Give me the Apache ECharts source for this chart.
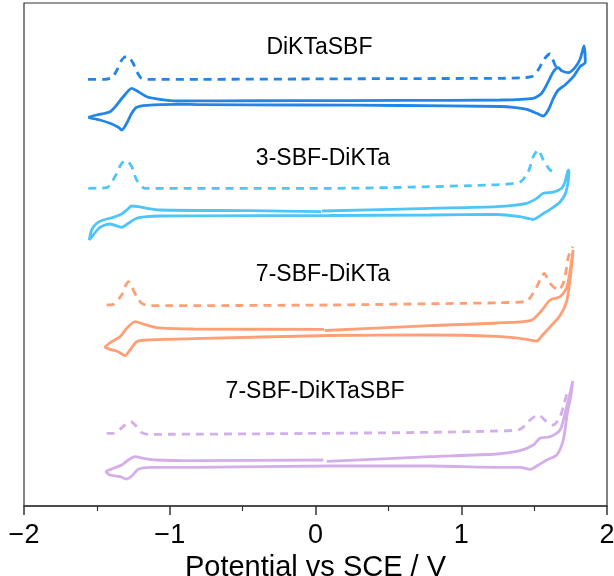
<!DOCTYPE html>
<html>
<head>
<meta charset="utf-8">
<script src="https://cdn.jsdelivr.net/npm/echarts@6/dist/echarts.min.js"></script>
<style>
html, body { margin: 0; padding: 0; background: #fff; }
#chart { width: 614px; height: 576px; }
</style>
</head>
<body>
<div id="chart"></div>
<script>
// Potential axis (V vs SCE)
const potentialMin = -2;
const potentialMax = 2;
const potentialStep = 1;

// Compounds, top to bottom, with their trace colours
const compounds = ['DiKTaSBF', '3-SBF-DiKTa', '7-SBF-DiKTa', '7-SBF-DiKTaSBF'];
const colors = ['#2385E8', '#4DC5F7', '#FF9F76', '#D3AEEB'];

// Where each compound name sits: [potential / V, stacked current (a.u.)]
const labelPoints = [[0.027, 458.7], [0.051, 347.7], [0.051, 231], [-0.003, 114.3]];

// Cyclic voltammograms: [potential / V, stacked current (a.u.)]
const cvDiKTaSBF = [
  [-1.559, 388.7], [-1.501, 391], [-1.410, 394.3], [-1.364, 401], [-1.319, 409.3], [-1.261, 417.7],
  [-1.216, 414.3], [-1.158, 409.3], [-1.067, 406.7], [-0.952, 405], [-0.655, 405.2], [-0.106, 405.3],
  [0.580, 405.6], [1.266, 406], [1.494, 407.7], [1.552, 412.7], [1.597, 424.3], [1.632, 434.3],
  [1.666, 438.3], [1.689, 435.3], [1.735, 433.3], [1.780, 438.3], [1.815, 446.7], [1.842, 460],
  [1.851, 443.7], [1.815, 439.3], [1.769, 429.3], [1.712, 421], [1.666, 416], [1.632, 407.7],
  [1.597, 396], [1.563, 390], [1.518, 392.7], [1.449, 396.7], [1.357, 398.7], [1.266, 399.5],
  [0.580, 400.5], [-0.106, 401], [-0.792, 401.4], [-0.952, 401.7], [-1.158, 400.7], [-1.227, 398.7],
  [-1.261, 392.7], [-1.295, 382.7], [-1.330, 376], [-1.353, 378.7], [-1.410, 382.7], [-1.479, 386],
  [-1.559, 388.7]
];
const cv3SBFDiKTa = [
  [0.045, 295], [0.786, 297.7], [1.243, 299.3], [1.449, 302.7], [1.518, 307.7], [1.563, 312.7],
  [1.632, 313.8], [1.689, 317.7], [1.712, 324], [1.735, 336], [1.739, 334], [1.719, 314],
  [1.678, 304], [1.621, 297.7], [1.563, 292.5], [1.494, 286.7], [1.403, 289.3], [1.243, 291.5],
  [0.786, 291], [0.100, 290.5], [-0.838, 290.2], [-1.067, 290], [-1.158, 289.3], [-1.227, 287.7],
  [-1.284, 282.7], [-1.330, 278.7], [-1.410, 282], [-1.479, 278.7], [-1.525, 271], [-1.552, 266],
  [-1.536, 276], [-1.501, 282.7], [-1.456, 286], [-1.387, 288.7], [-1.330, 292], [-1.295, 296],
  [-1.261, 300], [-1.216, 299.3], [-1.158, 297.7], [-1.067, 296], [-0.449, 295.3], [0.040, 294.3]
];
const cv7SBFDiKTa = [
  [0.062, 175.5], [0.786, 180.3], [1.243, 183], [1.479, 185.7], [1.552, 195.5], [1.609, 206],
  [1.678, 209.3], [1.724, 218.5], [1.751, 239], [1.767, 256], [1.760, 244], [1.746, 226],
  [1.724, 205], [1.678, 190.5], [1.609, 179], [1.552, 170], [1.518, 165], [1.403, 167.7],
  [1.243, 169.7], [0.786, 171], [0.100, 170.5], [-0.838, 167.3], [-1.158, 166], [-1.227, 164.3],
  [-1.273, 156], [-1.307, 150.3], [-1.353, 154.3], [-1.410, 156.7], [-1.444, 158.7], [-1.398, 164.3],
  [-1.341, 169.3], [-1.295, 177.7], [-1.238, 184.3], [-1.181, 182], [-1.090, 178.3], [-0.838, 177],
  [0.058, 176.7]
];
const cv7SBFDiKTaSBF = [
  [0.077, 44.7], [0.786, 49.3], [1.243, 52], [1.403, 55.3], [1.494, 61], [1.540, 67.7],
  [1.609, 69.3], [1.678, 76], [1.712, 92.7], [1.746, 112.7], [1.765, 125], [1.753, 111],
  [1.728, 92.7], [1.700, 66], [1.655, 51], [1.586, 46], [1.529, 41], [1.472, 36.7],
  [1.403, 38.7], [1.243, 38.7], [0.786, 40], [0.100, 40], [-0.838, 38.7], [-1.136, 38.7],
  [-1.216, 36.7], [-1.261, 30], [-1.295, 27], [-1.341, 29.3], [-1.410, 31], [-1.437, 34.3],
  [-1.387, 37.7], [-1.330, 41], [-1.284, 46], [-1.238, 49.3], [-1.181, 47.7], [-1.090, 46],
  [-0.838, 45.3], [0.054, 46]
];

// Differential pulse voltammograms: [potential / V, stacked current (a.u.)]
const dpvDiKTaSBF = [
  [-1.561, 426.7], [-1.444, 426.7], [-1.396, 428.5], [-1.362, 436], [-1.334, 445], [-1.314, 448.5],
  [-1.293, 449.5], [-1.273, 447.5], [-1.252, 443], [-1.225, 434.3], [-1.197, 428], [-1.163, 426.7],
  [-0.792, 426.7], [-0.106, 427], [0.580, 427.4], [1.266, 427.7], [1.437, 428.4], [1.492, 430],
  [1.527, 436], [1.554, 443], [1.581, 449], [1.609, 452], [1.623, 449], [1.636, 443.5], [1.657, 437]
];
const dpv3SBFDiKTa = [
  [-1.559, 317.7], [-1.433, 318.3], [-1.376, 329.3], [-1.330, 342.7], [-1.295, 345.3], [-1.261, 339.3],
  [-1.227, 326], [-1.170, 317.7], [0.100, 317.7], [1.197, 321], [1.403, 324], [1.460, 334.3],
  [1.494, 349.3], [1.529, 356], [1.563, 346], [1.609, 336], [1.643, 334.3]
];
const dpv7SBFDiKTa = [
  [-1.433, 201], [-1.387, 201.7], [-1.330, 211], [-1.307, 219.3], [-1.284, 224.3], [-1.261, 219.3],
  [-1.227, 209.3], [-1.192, 202.7], [-1.136, 200.3], [0.100, 201], [1.014, 202.7], [1.266, 203.3],
  [1.449, 205], [1.506, 216], [1.552, 229.3], [1.568, 232.7], [1.609, 222.7], [1.666, 216],
  [1.700, 222.7], [1.724, 239.3], [1.735, 249.3], [1.765, 259.3]
];
const dpv7SBFDiKTaSBF = [
  [-1.433, 72.7], [-1.387, 72.7], [-1.341, 76.7], [-1.307, 81], [-1.268, 84.3], [-1.238, 81],
  [-1.192, 73.3], [-1.147, 71.7], [0.100, 72.7], [0.786, 73.7], [1.243, 75], [1.403, 76.7],
  [1.472, 86], [1.529, 91], [1.586, 84.3], [1.632, 81], [1.678, 89.3], [1.700, 99.3], [1.724, 112]
];

const cvTraces = [cvDiKTaSBF, cv3SBFDiKTa, cv7SBFDiKTa, cv7SBFDiKTaSBF];
const dpvTraces = [dpvDiKTaSBF, dpv3SBFDiKTa, dpv7SBFDiKTa, dpv7SBFDiKTaSBF];

const fontFamily = '"Liberation Sans", Arial, sans-serif';

const series = [];
compounds.forEach(function (name, i) {
  series.push({
    name: name + ' CV',
    type: 'line',
    data: cvTraces[i],
    symbol: 'none',
    smooth: 0.25,
    lineStyle: { color: colors[i], width: 2.8 },
    silent: true,
    z: 3
  });
  series.push({
    name: name + ' DPV',
    type: 'line',
    data: dpvTraces[i],
    symbol: 'none',
    smooth: 0.25,
    lineStyle: { color: colors[i], width: 2.8, type: [8, 6] },
    silent: true,
    z: 2
  });
});

// Compound names as text anchored in data space
series.push({
  type: 'scatter',
  symbolSize: 0,
  silent: true,
  itemStyle: { opacity: 1 },
  data: compounds.map(function (name, i) {
    return { name: name, value: labelPoints[i] };
  }),
  label: {
    show: true,
    position: 'inside',
    formatter: '{b}',
    color: '#000',
    opacity: 1,
    textBorderWidth: 0,
    fontSize: 23,
    fontFamily: fontFamily
  },
  z: 5
});

const chart = echarts.init(document.getElementById('chart'), null, { renderer: 'canvas' });
chart.setOption({
  animation: false,
  backgroundColor: '#fff',
  grid: {
    left: 24, right: 7, top: 3, bottom: 70,
    outerBoundsMode: 'none',
    containLabel: false,
    show: true, borderColor: '#333', borderWidth: 1.2
  },
  xAxis: {
    type: 'value',
    min: potentialMin,
    max: potentialMax,
    interval: potentialStep,
    name: 'Potential vs SCE / V',
    nameLocation: 'middle',
    nameGap: 47,
    nameTextStyle: { color: '#000', fontSize: 29, fontFamily: fontFamily },
    axisLine: { onZero: false, lineStyle: { color: '#333', width: 1.5 } },
    axisTick: { inside: false, length: 9, lineStyle: { color: '#333', width: 1.5 } },
    minorTick: { show: true, splitNumber: 2, length: 5, lineStyle: { color: '#333', width: 1.2 } },
    axisLabel: {
      color: '#000', fontSize: 27, fontFamily: fontFamily, margin: 16,
      formatter: function (v) { return String(v).replace('-', '\u2212'); }
    },
    splitLine: { show: false }
  },
  yAxis: {
    type: 'value',
    min: 0,
    max: 503,
    show: false
  },
  series: series
});
</script>
</body>
</html>
